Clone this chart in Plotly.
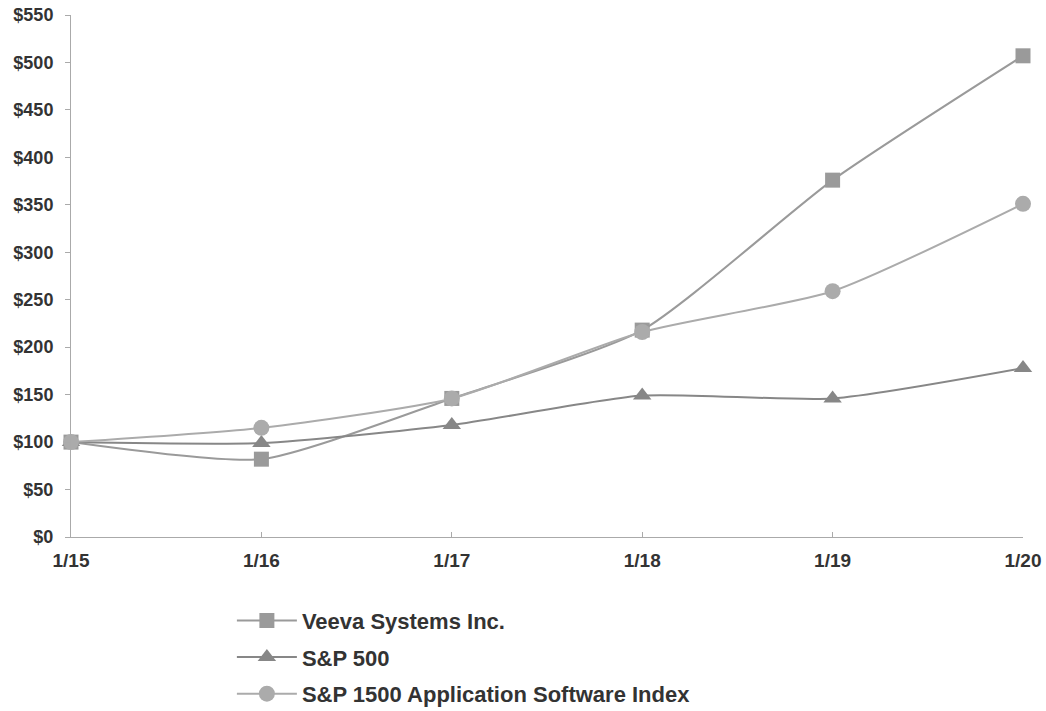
import plotly.graph_objects as go

dates = ["1/15", "1/16", "1/17", "1/18", "1/19", "1/20"]
veeva = [100, 82, 146, 218, 376, 507]
sp500 = [100, 99, 118, 149, 146, 178]
software = [100, 115, 146, 216, 259, 351]
y_ticks = list(range(0, 551, 50))
y_labels = [f"${v}" for v in y_ticks]

xs = list(range(len(dates)))

fig = go.Figure()
fig.add_trace(go.Scatter(x=xs, y=veeva, name="<b>Veeva Systems Inc.</b>", mode="lines+markers",
                         legendgroup="a",
                         line=dict(color="#9a9a9a", width=2, shape="spline", smoothing=0.6),
                         marker=dict(symbol="square", size=15, color="#9a9a9a"), cliponaxis=False))
fig.add_trace(go.Scatter(x=xs, y=sp500, name="<b>S&P 500</b>", mode="lines+markers",
                         legendgroup="b",
                         line=dict(color="#878787", width=2, shape="spline", smoothing=0.6),
                         marker=dict(symbol="triangle-up", size=16, color="#878787"), cliponaxis=False))
fig.add_trace(go.Scatter(x=xs, y=software, name="<b>S&P 1500 Application Software Index</b>",
                         mode="lines+markers", legendgroup="c",
                         line=dict(color="#ababab", width=2, shape="spline", smoothing=0.6),
                         marker=dict(symbol="circle", size=16, color="#ababab"), cliponaxis=False))

fig.update_layout(
    width=1046, height=711,
    margin=dict(l=71, r=23, t=15, b=174, autoexpand=False),
    plot_bgcolor="white", paper_bgcolor="white",
    font=dict(family="Liberation Sans, Arial", color="#333333"),
    showlegend=True,
    legend=dict(x=0.169, y=-0.12, xanchor="left", yanchor="top",
                font=dict(size=22, color="#333333", family="Liberation Sans, Arial"),
                traceorder="grouped", itemwidth=60, tracegroupgap=5),
)
fig.update_xaxes(range=[0, 5], tickvals=xs, ticktext=[f"<b>{d}</b>" for d in dates],
                 showgrid=False, zeroline=False, showline=True, linecolor="#aaaaaa", linewidth=1,
                 ticks="inside", ticklen=5, tickcolor="#aaaaaa", ticklabelstandoff=6,
                 tickfont=dict(size=19, color="#333333"))
fig.update_yaxes(range=[0, 550], tickvals=y_ticks, ticktext=[f"<b>{l}</b>" for l in y_labels],
                 showgrid=False, zeroline=False, showline=True, linecolor="#aaaaaa", linewidth=1,
                 ticks="outside", ticklen=5, tickcolor="#aaaaaa", ticklabelstandoff=8,
                 tickfont=dict(size=18, color="#333333"))

fig.write_html("out.html")
